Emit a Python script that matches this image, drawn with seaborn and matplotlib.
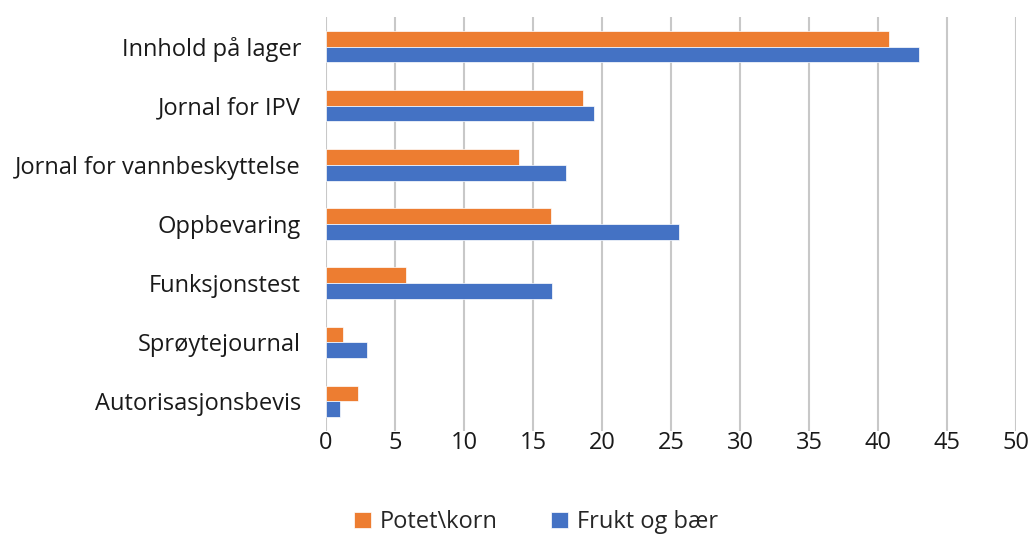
import matplotlib
matplotlib.use("Agg")
import matplotlib.pyplot as plt
import seaborn as sns
import pandas as pd

categories = ["Innhold på lager", "Jornal for IPV", "Jornal for vannbeskyttelse",
              "Oppbevaring", "Funksjonstest", "Sprøytejournal", "Autorisasjonsbevis"]
potet_korn = [40.8, 18.6, 14.0, 16.3, 5.8, 1.2, 2.3]
frukt_baer = [43.0, 19.4, 17.4, 25.6, 16.4, 3.0, 1.0]
series = ["Potet\\korn", "Frukt og bær"]
colors = ["#ed7d31", "#4472c4"]

df = pd.DataFrame({
    "kategori": categories * 2,
    "verdi": potet_korn + frukt_baer,
    "serie": [series[0]] * len(categories) + [series[1]] * len(categories),
})

sns.set_style("white")
plt.rcParams["font.family"] = ["Open Sans", "DejaVu Sans"]

fig = plt.figure(figsize=(10.33, 5.36), dpi=100)
ax = fig.add_axes([326 / 1033, 1 - 431 / 536, 690 / 1033, 414 / 536])

sns.barplot(data=df, x="verdi", y="kategori", hue="serie", hue_order=series,
            palette=colors, width=0.53, orient="h", ax=ax,
            edgecolor="white", linewidth=0.5, saturation=1)

ax.set_xlim(0, 50)
ax.set_xticks(range(0, 51, 5))
ax.grid(axis="x", color="#c8c8c8", linewidth=1.5)
ax.set_axisbelow(True)
for s in ax.spines.values():
    s.set_visible(False)
ax.set_xlabel("")
ax.set_ylabel("")
ax.tick_params(axis="both", length=0, labelsize=17, colors="#1a1a1a")
ax.tick_params(axis="x", pad=0)
ax.tick_params(axis="y", pad=18)

ax.legend(loc="center", bbox_to_anchor=(0.519, 0.026), bbox_transform=fig.transFigure,
          ncol=2, frameon=False, fontsize=17, handlelength=0.7, handleheight=0.7,
          columnspacing=2.25, handletextpad=0.4)

fig.savefig("out.png", dpi=100)
